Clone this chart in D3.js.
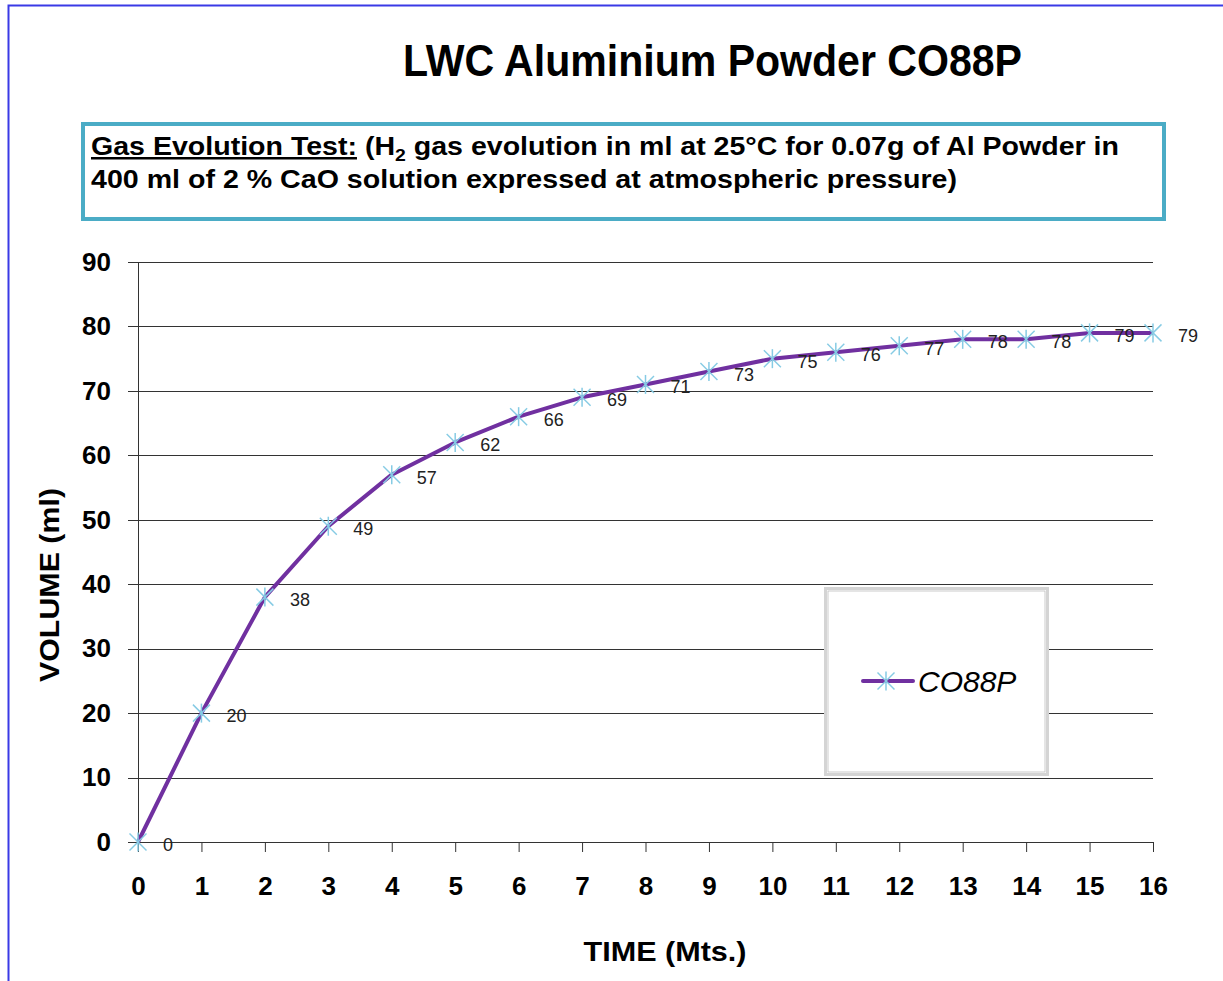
<!DOCTYPE html>
<html>
<head>
<meta charset="utf-8">
<script src="https://cdn.jsdelivr.net/npm/d3@7"></script>
<style>
  body { margin: 0; background: #fff; }
  text { font-family: "Liberation Sans", Arial, sans-serif; }
</style>
</head>
<body>
<div id="chart"></div>
<script>
// Data
var times = [0, 1, 2, 3, 4, 5, 6, 7, 8, 9, 10, 11, 12, 13, 14, 15, 16];
var volumes = [0, 20, 38, 49, 57, 62, 66, 69, 71, 73, 75, 76, 77, 78, 78, 79, 79];
var yTicks = [0, 10, 20, 30, 40, 50, 60, 70, 80, 90];
var seriesName = "CO88P";

var W = 1223, H = 981;
var margin = {top: 262, right: 70, bottom: 139, left: 138};
var width = W - margin.left - margin.right,
	height = H - margin.top - margin.bottom;

var svg = d3.select("#chart").append("svg")
	.attr("width", W)
	.attr("height", H);

// outer blue frame (runs off the right and bottom)
svg.append("rect")
	.attr("x", 8.5).attr("y", 5.5)
	.attr("width", W + 20).attr("height", H + 20)
	.attr("fill", "none")
	.attr("stroke", "#3a3ae6")
	.attr("stroke-width", 2);

// Title
svg.append("text")
	.attr("x", 403).attr("y", 76)
	.attr("font-size", "44px")
	.attr("font-weight", "bold")
	.attr("textLength", 619)
	.attr("lengthAdjust", "spacingAndGlyphs")
	.text("LWC Aluminium Powder CO88P");

// Note box
svg.append("rect")
	.attr("x", 83).attr("y", 124)
	.attr("width", 1081).attr("height", 95)
	.attr("fill", "#fff")
	.attr("stroke", "#4bacc6")
	.attr("stroke-width", 4);

var line1 = svg.append("text")
	.attr("x", 91).attr("y", 155)
	.attr("font-size", "25px")
	.attr("font-weight", "bold")
	.attr("textLength", 1028)
	.attr("lengthAdjust", "spacingAndGlyphs");
line1.append("tspan").attr("text-decoration", "underline").text("Gas Evolution Test:");
line1.append("tspan").text(" (H");
line1.append("tspan").attr("font-size", "17px").attr("dy", 6).text("2");
line1.append("tspan").attr("dy", -6).text(" gas evolution in ml at 25°C for 0.07g of Al Powder in");

svg.append("text")
	.attr("x", 91).attr("y", 188)
	.attr("font-size", "25px")
	.attr("font-weight", "bold")
	.attr("textLength", 866)
	.attr("lengthAdjust", "spacingAndGlyphs")
	.text("400 ml of 2 % CaO solution expressed at atmospheric pressure)");

var g = svg.append("g")
	.attr("transform", "translate(" + margin.left + "," + margin.top + ")");

var x = d3.scaleLinear().domain([0, 16]).range([0, width]);
var y = d3.scaleLinear().domain([0, 90]).range([height, 0]);

// horizontal gridlines
g.selectAll(".grid")
	.data(yTicks)
	.enter().append("line")
	.attr("class", "grid")
	.attr("x1", -10).attr("x2", width)
	.attr("y1", function(d) { return Math.round(y(d)) + 0.5; })
	.attr("y2", function(d) { return Math.round(y(d)) + 0.5; })
	.attr("stroke", "#333")
	.attr("stroke-width", 1);

// y axis
var yAxis = d3.axisLeft(y).tickValues(yTicks).tickSize(0).tickPadding(27);
var yg = g.append("g").attr("class", "y-axis").call(yAxis);
yg.select(".domain").attr("stroke", "#333");
yg.selectAll("text")
	.attr("font-size", "26px")
	.attr("font-weight", "bold")
	.attr("fill", "#000")
	.style("font-family", "'Liberation Sans', Arial, sans-serif");

// x axis
var xAxis = d3.axisBottom(x).tickValues(times).tickSize(10).tickPadding(25).tickSizeOuter(0);
var xg = g.append("g")
	.attr("class", "x-axis")
	.attr("transform", "translate(0," + height + ")")
	.call(xAxis);
xg.select(".domain").attr("stroke", "#333");
xg.selectAll(".tick line").attr("stroke", "#333");
xg.selectAll("text")
	.attr("font-size", "26px")
	.attr("font-weight", "bold")
	.attr("fill", "#000")
	.style("font-family", "'Liberation Sans', Arial, sans-serif");

// axis titles
svg.append("text")
	.attr("transform", "translate(59,585) rotate(-90)")
	.attr("text-anchor", "middle")
	.attr("font-size", "28px")
	.attr("font-weight", "bold")
	.attr("textLength", 194)
	.attr("lengthAdjust", "spacingAndGlyphs")
	.text("VOLUME (ml)");

svg.append("text")
	.attr("x", 665).attr("y", 961)
	.attr("text-anchor", "middle")
	.attr("font-size", "28px")
	.attr("font-weight", "bold")
	.attr("textLength", 163)
	.attr("lengthAdjust", "spacingAndGlyphs")
	.text("TIME (Mts.)");

// series line
var points = times.map(function(t, i) { return {t: t, v: volumes[i]}; });
var line = d3.line()
	.x(function(d) { return x(d.t); })
	.y(function(d) { return y(d.v); });

g.append("path")
	.datum(points)
	.attr("d", line)
	.attr("fill", "none")
	.attr("stroke", "#7030a0")
	.attr("stroke-width", 4)
	.attr("stroke-linejoin", "round");

// asterisk markers
function star(sel, r) {
	sel.append("line").attr("x1", -r).attr("y1", -r).attr("x2", r).attr("y2", r);
	sel.append("line").attr("x1", -r).attr("y1", r).attr("x2", r).attr("y2", -r);
	sel.append("line").attr("x1", 0).attr("y1", -r - 1).attr("x2", 0).attr("y2", r + 1);
}
var marks = g.selectAll(".mark")
	.data(points)
	.enter().append("g")
	.attr("class", "mark")
	.attr("transform", function(d) { return "translate(" + x(d.t) + "," + y(d.v) + ")"; })
	.attr("stroke", "#86cbe4")
	.attr("stroke-width", 1.5);
marks.each(function() { star(d3.select(this), 8.5); });

// data labels
g.selectAll(".lbl")
	.data(points)
	.enter().append("text")
	.attr("class", "lbl")
	.attr("x", function(d) { return x(d.t) + 25; })
	.attr("y", function(d) { return y(d.v) + 9; })
	.attr("font-size", "18px")
	.attr("fill", "#222")
	.text(function(d) { return d.v; });

// legend
var lg = svg.append("g").attr("transform", "translate(825,588)");
lg.append("rect")
	.attr("x", 0.5).attr("y", 0.5).attr("width", 222).attr("height", 186)
	.attr("fill", "#fff").attr("stroke", "#d4d4d4").attr("stroke-width", 3);
lg.append("rect")
	.attr("x", 3).attr("y", 3).attr("width", 217).attr("height", 181)
	.attr("fill", "none").attr("stroke", "#bdbdbd").attr("stroke-width", 0.8);
lg.append("line")
	.attr("x1", 38).attr("x2", 88).attr("y1", 93).attr("y2", 93)
	.attr("stroke", "#7030a0").attr("stroke-width", 4).attr("stroke-linecap", "round");
var lm = lg.append("g").attr("transform", "translate(61,93)")
	.attr("stroke", "#86cbe4").attr("stroke-width", 1.5);
star(lm, 8.5);
lg.append("text")
	.attr("x", 93).attr("y", 104)
	.attr("font-size", "30px")
	.attr("font-style", "italic")
	.text(seriesName);
</script>
</body>
</html>
